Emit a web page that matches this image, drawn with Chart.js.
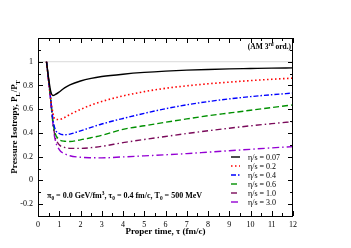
<!DOCTYPE html>
<html>
<head>
<meta charset="utf-8">
<script src="https://cdn.jsdelivr.net/npm/chart.js@4/dist/chart.umd.min.js"></script>
<style>
  html, body { margin: 0; padding: 0; background: #fff; }
  canvas { display: block; }
</style>
</head>
<body>
<canvas id="isoChart" width="351" height="248"></canvas>
<script>
// ── Pressure isotropy P_L/P_T vs proper time ──
const TAU      = [0.4, 0.5, 0.6, 0.7, 0.8, 1.0, 1.25, 1.5, 2.0, 2.5, 3.0, 4.0, 5.0, 6.0, 7.0, 8.0, 9.0, 10.0, 11.0, 12.0];
const ETA_0_07 = [1.0, 0.86, 0.75, 0.716, 0.722, 0.745, 0.78, 0.805, 0.838, 0.86, 0.875, 0.895, 0.91, 0.921, 0.929, 0.935, 0.94, 0.943, 0.946, 0.948];
const ETA_0_2  = [1.0, 0.84, 0.68, 0.57, 0.515, 0.513, 0.53, 0.555, 0.598, 0.635, 0.665, 0.712, 0.748, 0.776, 0.797, 0.814, 0.828, 0.841, 0.852, 0.862];
const ETA_0_4  = [1.0, 0.84, 0.68, 0.52, 0.435, 0.395, 0.385, 0.39, 0.418, 0.447, 0.475, 0.522, 0.565, 0.604, 0.637, 0.664, 0.687, 0.706, 0.722, 0.736];
const ETA_0_6  = [1.0, 0.84, 0.68, 0.5, 0.4, 0.345, 0.33, 0.328, 0.342, 0.36, 0.38, 0.43, 0.46, 0.49, 0.518, 0.545, 0.568, 0.591, 0.614, 0.636];
const ETA_1_0  = [1.0, 0.84, 0.67, 0.49, 0.375, 0.3, 0.278, 0.27, 0.27, 0.276, 0.287, 0.318, 0.345, 0.37, 0.395, 0.418, 0.44, 0.46, 0.478, 0.496];
const ETA_3_0  = [1.0, 0.84, 0.67, 0.48, 0.35, 0.26, 0.225, 0.208, 0.195, 0.191, 0.19, 0.198, 0.207, 0.216, 0.226, 0.238, 0.25, 0.262, 0.274, 0.285];

const LABELS = ['η/s = 0.07', 'η/s = 0.2', 'η/s = 0.4', 'η/s = 0.6', 'η/s = 1.0', 'η/s = 3.0'];
const Y_TICK_LABELS = [-0.2, 0, 0.2, 0.4, 0.6, 0.8, 1];
const X_TICK_LABELS = [0, 1, 2, 3, 4, 5, 6, 7, 8, 9, 10, 11, 12];

const SERIF = '"Liberation Serif", "Times New Roman", serif';

const STYLES = [
  { color: '#000000', dash: [],            width: 1.4 },
  { color: '#ff0000', dash: [1.5, 2.5],    width: 1.6 },
  { color: '#0000ff', dash: [5, 2, 1.5, 2], width: 1.4 },
  { color: '#009000', dash: [6, 3],        width: 1.4 },
  { color: '#7a0a5a', dash: [6, 3, 1.5, 3], width: 1.4 },
  { color: '#9400d3', dash: [7, 3, 1.5, 3], width: 1.4 },
];

const SERIES = [ETA_0_07, ETA_0_2, ETA_0_4, ETA_0_6, ETA_1_0, ETA_3_0];

function points(vals) { return TAU.map((t, i) => ({ x: t, y: vals[i] })); }

function near(v, list) { return list.some(l => Math.abs(l - v) < 1e-6); }

// text with sub/superscripts
function drawRich(ctx, parts, x, y, size, bold, align) {
  const font = s => `${bold ? 'bold ' : ''}${s}px ${SERIF}`;
  let w = 0;
  parts.forEach(p => {
    ctx.font = font(p.sub || p.sup ? size * 0.68 : size);
    w += ctx.measureText(p.t).width;
  });
  let cx = align === 'center' ? x - w / 2 : align === 'right' ? x - w : x;
  ctx.textAlign = 'left';
  ctx.textBaseline = 'alphabetic';
  parts.forEach(p => {
    const s = p.sub || p.sup ? size * 0.68 : size;
    ctx.font = font(s);
    const dy = p.sub ? size * 0.28 : p.sup ? -size * 0.42 : 0;
    ctx.fillText(p.t, cx, y + dy);
    cx += ctx.measureText(p.t).width;
  });
}

const decorPlugin = {
  id: 'decor',
  beforeDatasetsDraw(chart) {
    const { ctx, chartArea: a, scales } = chart;
    const y1 = scales.y.getPixelForValue(1);
    ctx.save();
    ctx.strokeStyle = '#d9d9d9';
    ctx.lineWidth = 1;
    ctx.beginPath();
    ctx.moveTo(a.left, y1); ctx.lineTo(a.right, y1);
    ctx.stroke();
    ctx.restore();
  },
  afterDraw(chart) {
    const { ctx, chartArea: a, scales } = chart;
    ctx.save();
    ctx.fillStyle = '#000';
    ctx.strokeStyle = '#000';
    ctx.lineWidth = 1;
    ctx.strokeRect(a.left + 0.5, a.top + 0.5, a.right - a.left - 1, a.bottom - a.top);

    // inward ticks on all four sides
    ctx.beginPath();
    scales.x.ticks.forEach(t => {
      const px = Math.round(scales.x.getPixelForValue(t.value)) + 0.5;
      const len = near(t.value, X_TICK_LABELS) ? 5 : 3;
      ctx.moveTo(px, a.bottom); ctx.lineTo(px, a.bottom - len);
      ctx.moveTo(px, a.top); ctx.lineTo(px, a.top + len);
    });
    scales.y.ticks.forEach(t => {
      const py = Math.round(scales.y.getPixelForValue(t.value)) + 0.5;
      const major = Math.abs(Math.round(t.value * 10)) % 2 === 0;
      const len = major ? 5 : 3;
      ctx.moveTo(a.left, py); ctx.lineTo(a.left + len, py);
      ctx.moveTo(a.right, py); ctx.lineTo(a.right - len, py);
    });
    ctx.stroke();

    // axis titles
    drawRich(ctx, [{ t: 'Proper time, τ (fm/c)' }], (a.left + a.right) / 2, 234, 9, true, 'center');
    ctx.save();
    ctx.translate(17, (a.top + a.bottom) / 2);
    ctx.rotate(-Math.PI / 2);
    drawRich(ctx, [{ t: 'Pressure Isotropy, P' }, { t: 'L', sub: true }, { t: '/P' }, { t: 'T', sub: true }], 0, 0, 9, true, 'center');
    ctx.restore();

    // annotations
    drawRich(ctx, [
      { t: 'π' }, { t: '0', sub: true }, { t: ' = 0.0 GeV/fm' }, { t: '3', sup: true },
      { t: ', τ' }, { t: '0', sub: true }, { t: ' = 0.4 fm/c, T' }, { t: '0', sub: true }, { t: ' = 500 MeV' }
    ], 47, 198, 8, true, 'left');
    drawRich(ctx, [{ t: '(AM 3' }, { t: 'rd', sup: true }, { t: ' ord.)' }], 291, 49, 7.5, true, 'right');

    // legend
    chart.data.datasets.forEach((ds, i) => {
      const ly = 157 + i * 9;
      ctx.save();
      ctx.strokeStyle = ds.borderColor;
      ctx.lineWidth = ds.borderWidth;
      ctx.setLineDash(ds.borderDash);
      ctx.beginPath();
      ctx.moveTo(231, ly); ctx.lineTo(240, ly);
      ctx.stroke();
      ctx.restore();
      ctx.font = `8px ${SERIF}`;
      ctx.textAlign = 'left';
      ctx.textBaseline = 'middle';
      ctx.fillText(ds.label, 248, ly + 0.5);
    });
    ctx.restore();
  }
};

new Chart(document.getElementById('isoChart'), {
  type: 'line',
  data: {
    datasets: SERIES.map((vals, i) => ({
      label: LABELS[i],
      data: points(vals),
      borderColor: STYLES[i].color,
      borderDash: STYLES[i].dash,
      borderWidth: STYLES[i].width,
      pointRadius: 0,
      fill: false,
      cubicInterpolationMode: 'monotone',
    }))
  },
  options: {
    responsive: false,
    animation: false,
    layout: { padding: { top: 38, right: 58, left: 0, bottom: 0 } },
    plugins: { legend: { display: false }, tooltip: { enabled: false } },
    scales: {
      x: {
        type: 'linear', min: 0, max: 12,
        grid: { display: false, drawTicks: false },
        border: { display: false },
        ticks: {
          stepSize: 0.5, autoSkip: false, maxRotation: 0, padding: 4,
          color: '#000', font: { family: SERIF, size: 8 },
          callback: v => near(v, X_TICK_LABELS) ? String(Math.round(v)) : ''
        },
        afterFit: s => { s.height = 32; }
      },
      y: {
        type: 'linear', min: -0.3, max: 1.2,
        grid: { display: false, drawTicks: false },
        border: { display: false },
        ticks: {
          stepSize: 0.1, autoSkip: false, padding: 5,
          color: '#000', font: { family: SERIF, size: 8 },
          callback: v => near(v, Y_TICK_LABELS) ? String(Math.round(v * 10) / 10) : ''
        },
        afterFit: s => { s.width = 38; }
      }
    }
  },
  plugins: [decorPlugin]
});
</script>
</body>
</html>
